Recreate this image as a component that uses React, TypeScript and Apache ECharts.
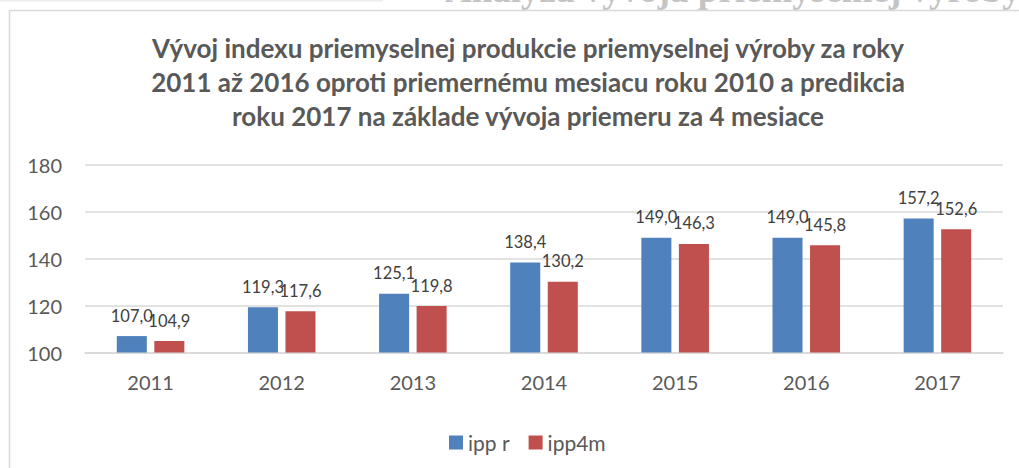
import React, { useEffect, useRef } from "react";
import * as echarts from "echarts";

const categories = ["2011", "2012", "2013", "2014", "2015", "2016", "2017"];
const ippR = [107.0, 119.3, 125.1, 138.4, 149.0, 149.0, 157.2];
const ipp4m = [104.9, 117.6, 119.8, 130.2, 146.3, 145.8, 152.6];
const seriesNames = ["ipp r", "ipp4m"];
const titleText =
  "Vývoj indexu priemyselnej produkcie priemyselnej výroby za roky\n2011 až 2016 oproti priemernému mesiacu roku 2010 a predikcia\nroku 2017 na základe vývoja priemeru za 4 mesiace";
const headingText = "Analýza vývoja priemyselnej výroby";

const fmt = (v: number) => v.toFixed(1).replace(".", ",");

export default function App() {
  const ref = useRef<HTMLDivElement>(null);
  useEffect(() => {
    if (!ref.current) return;
    const chart = echarts.init(ref.current, null, { renderer: "svg" });
    const font = "Lato, 'Open Sans', sans-serif";
    chart.setOption({
      animation: false,
      backgroundColor: "#ffffff",
      graphic: [
        { type: "rect", shape: { x: 0, y: 0, width: 383, height: 1.5 }, style: { fill: "#eeeef2" }, z: -10 },
        {
          type: "text",
          x: 445,
          y: -11,
          style: {
            text: headingText,
            fontFamily: "'Liberation Serif', 'DejaVu Serif', serif",
            fontWeight: "bold",
            fontSize: 37,
            fill: "#c4c4c4",
            textAlign: "left",
            textVerticalAlign: "middle",
          },
          z: -10,
        },
        {
          type: "rect",
          shape: { x: 9.5, y: 10.5, width: 1100, height: 600 },
          style: { fill: "#ffffff", stroke: "#d9d9d9", lineWidth: 1.5 },
          z: -9,
        },
        {
          type: "text",
          x: 528,
          y: 82,
          style: {
            text: titleText,
            fontFamily: font,
            fontWeight: "bold",
            fontSize: 26,
            lineHeight: 34,
            fill: "#595959",
            textAlign: "center",
            textVerticalAlign: "middle",
          },
          z: 2,
        },
      ],
      grid: { left: 85, right: 16, top: 165, bottom: 468 - 352.5, containLabel: false },
      legend: {
        data: seriesNames,
        left: 444,
        top: 427,
        itemWidth: 14,
        itemHeight: 14,
        itemGap: 19,
        icon: "rect",
        textStyle: { fontFamily: font, fontSize: 21, color: "#595959" },
      },
      xAxis: {
        type: "category",
        data: categories,
        axisLine: { lineStyle: { color: "#d9d9d9", width: 1.5 } },
        axisTick: { show: false },
        axisLabel: { fontFamily: font, fontSize: 20, color: "#595959", margin: 19 },
      },
      yAxis: {
        type: "value",
        min: 100,
        max: 180,
        interval: 20,
        axisLine: { show: false },
        axisTick: { show: false },
        splitLine: { lineStyle: { color: "#d9d9d9", width: 1.5 } },
        axisLabel: { fontFamily: font, fontSize: 20, color: "#595959", margin: 23 },
      },
      series: [
        {
          name: seriesNames[0],
          type: "bar",
          data: ippR,
          barWidth: "22.9%",
          barGap: "25%",
          itemStyle: { color: "#4F81BD" },
          label: {
            show: true,
            position: "top",
            distance: 12,
            fontFamily: font,
            fontSize: 16.5,
            color: "#404040",
            formatter: (p: any) => fmt(p.value),
          },
        },
        {
          name: seriesNames[1],
          type: "bar",
          data: ipp4m,
          barWidth: "22.9%",
          barGap: "25%",
          itemStyle: { color: "#C0504D" },
          label: {
            show: true,
            position: "top",
            distance: 12,
            fontFamily: font,
            fontSize: 16.5,
            color: "#404040",
            formatter: (p: any) => fmt(p.value),
          },
        },
      ],
    });
    return () => chart.dispose();
  }, []);
  return (
    <div
      ref={ref}
      style={{ position: "fixed", left: 0, top: 0, width: 1019, height: 468 }}
    />
  );
}
